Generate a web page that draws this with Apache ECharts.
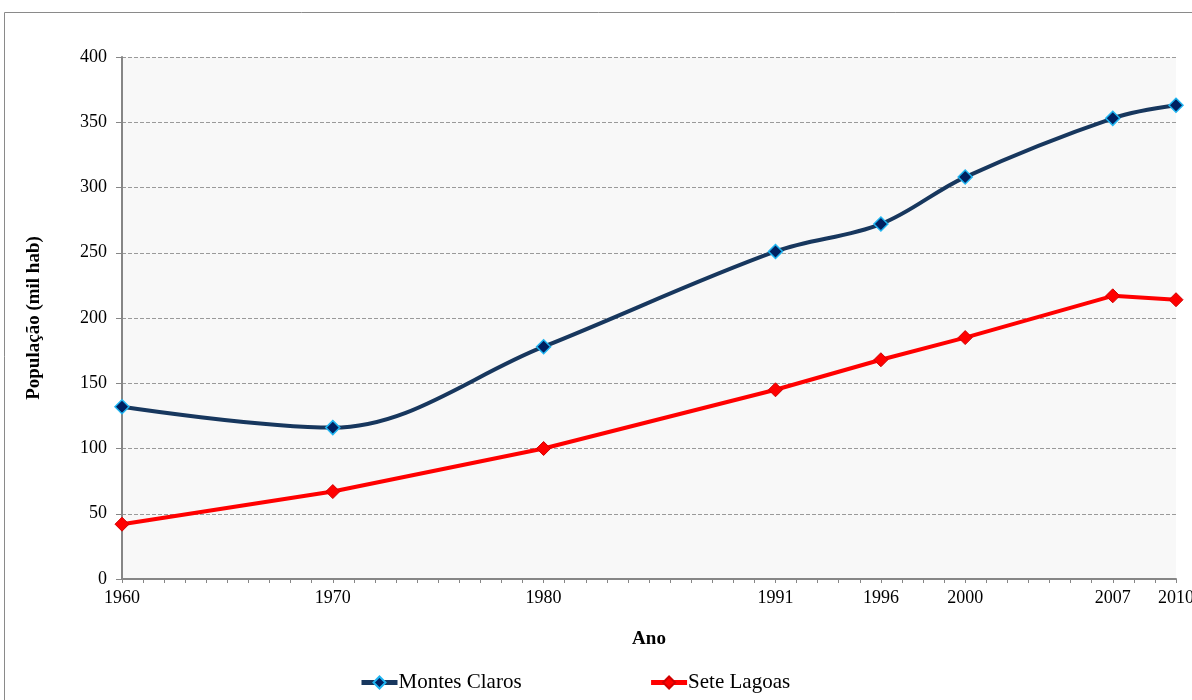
<!DOCTYPE html>
<html>
<head>
<meta charset="utf-8">
<script src="https://cdn.jsdelivr.net/npm/echarts@6/dist/echarts.min.js"></script>
<style>
  html,body{margin:0;padding:0;background:#fff;}
  #chart{width:1192px;height:700px;}
</style>
</head>
<body>
<div id="chart"></div>
<script>
// anos (eixo x proporcional)
var years = [1960, 1970, 1980, 1991, 1996, 2000, 2007, 2010];
// populacao (mil hab)
var montesClaros = [132, 116, 178, 251, 272, 308, 353, 363];
var seteLagoas = [42, 67, 100, 145, 168, 185, 217, 214];

function pairs(xs, ys) {
    var out = [];
    for (var i = 0; i < xs.length; i++) {
        out.push([xs[i], ys[i]]);
    }
    return out;
}

var chart = echarts.init(document.getElementById('chart'));
var font = 'Liberation Serif, Times New Roman, serif';

var option = {
    animation: false,
    textStyle: {fontFamily: font, color: '#000'},
    graphic: [{
        type: 'rect',
        shape: {x: 4.5, y: 12.5, width: 1200, height: 700},
        style: {fill: 'none', stroke: '#8a8a8a', lineWidth: 1},
        silent: true,
        z: -1
    }],
    grid: {
        left: 122,
        right: 16,
        top: 57,
        bottom: 121,
        outerBoundsMode: 'none',
        containLabel: false,
        show: true,
        backgroundColor: '#f8f8f8',
        borderWidth: 0
    },
    xAxis: {
        type: 'value',
        min: 1960,
        max: 2010,
        interval: 1,
        name: 'Ano',
        nameLocation: 'middle',
        nameGap: 51,
        nameTextStyle: {fontFamily: font, fontSize: 19, fontWeight: 'bold', color: '#000'},
        axisLine: {lineStyle: {color: '#868686', width: 2}},
        axisTick: {show: true, length: 4, lineStyle: {color: '#868686'}},
        axisLabel: {
            customValues: years,
            formatter: function (v) { return String(v); },
            fontFamily: font,
            fontSize: 18,
            color: '#000',
            margin: 10
        },
        splitLine: {show: false}
    },
    yAxis: {
        type: 'value',
        min: 0,
        max: 400,
        interval: 50,
        name: 'População (mil hab)',
        nameLocation: 'middle',
        nameGap: 78,
        nameTextStyle: {fontFamily: font, fontSize: 19, fontWeight: 'bold', color: '#000'},
        axisLine: {show: true, lineStyle: {color: '#868686', width: 2}},
        axisTick: {show: true, length: 6, lineStyle: {color: '#868686'}},
        axisLabel: {fontFamily: font, fontSize: 18, color: '#000', margin: 15},
        splitLine: {show: true, lineStyle: {color: '#9a9a9a', type: [4, 2], width: 1}}
    },
    legend: {
        bottom: 2,
        left: 354,
        itemGap: 127,
        itemWidth: 36,
        itemHeight: 15,
        textStyle: {fontFamily: font, fontSize: 21, color: '#000', padding: [0, 0, 0, -4]},
        data: [
            {name: 'Montes Claros', lineStyle: {width: 5}},
            {name: 'Sete Lagoas', lineStyle: {width: 5}}
        ]
    },
    series: [{
        name: 'Montes Claros',
        type: 'line',
        smooth: 0.35,
        data: pairs(years, montesClaros),
        symbol: 'diamond',
        symbolSize: 14,
        lineStyle: {color: '#17375e', width: 4},
        itemStyle: {color: '#002060', borderColor: '#1fb4f0', borderWidth: 1.5}
    }, {
        name: 'Sete Lagoas',
        type: 'line',
        data: pairs(years, seteLagoas),
        symbol: 'diamond',
        symbolSize: 14,
        lineStyle: {color: '#ff0000', width: 4},
        itemStyle: {color: '#ff0000', borderColor: '#d00000', borderWidth: 1}
    }]
};
chart.setOption(option);
</script>
</body>
</html>
